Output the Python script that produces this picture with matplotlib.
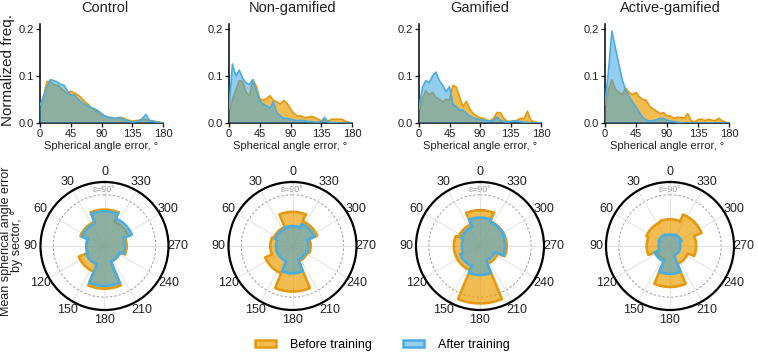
import numpy as np
import matplotlib
matplotlib.use("Agg")
import matplotlib.pyplot as plt
from matplotlib.patches import Patch

plt.rcParams['font.family'] = ['Liberation Sans', 'DejaVu Sans']

# ---------------- data ----------------
groups = ["Control", "Non-gamified", "Gamified", "Active-gamified"]
error_deg = list(range(0, 181, 5))
hist_xticks = [0, 45, 90, 135, 180]
hist_yticks = [0.0, 0.1, 0.2]

control_before = [0.030, 0.055, 0.088, 0.088, 0.082, 0.080, 0.075, 0.068, 0.063, 0.067,
                  0.064, 0.060, 0.054, 0.046, 0.040, 0.033, 0.027, 0.022, 0.017, 0.015,
                  0.012, 0.012, 0.010, 0.010, 0.012, 0.008, 0.006, 0.004, 0.005, 0.006,
                  0.008, 0.007, 0.005, 0.004, 0.003, 0.002, 0.0]
control_after = [0.038, 0.055, 0.075, 0.092, 0.090, 0.087, 0.082, 0.080, 0.068, 0.058,
                 0.060, 0.052, 0.045, 0.040, 0.036, 0.033, 0.030, 0.026, 0.020, 0.015,
                 0.012, 0.010, 0.010, 0.012, 0.009, 0.006, 0.004, 0.002, 0.003, 0.005,
                 0.010, 0.018, 0.006, 0.004, 0.002, 0.001, 0.0]
nongam_before = [0.020, 0.050, 0.070, 0.090, 0.088, 0.065, 0.058, 0.092, 0.078, 0.052,
                 0.048, 0.052, 0.058, 0.048, 0.045, 0.040, 0.048, 0.042, 0.030, 0.020,
                 0.015, 0.015, 0.012, 0.012, 0.014, 0.012, 0.008, 0.005, 0.007, 0.004,
                 0.008, 0.008, 0.008, 0.008, 0.004, 0.002, 0.0]
nongam_after = [0.030, 0.125, 0.100, 0.112, 0.095, 0.085, 0.082, 0.092, 0.068, 0.048,
                0.040, 0.036, 0.032, 0.045, 0.022, 0.015, 0.010, 0.010, 0.008, 0.006,
                0.005, 0.006, 0.005, 0.003, 0.003, 0.002, 0.002, 0.003, 0.012, 0.002,
                0.001, 0.001, 0.0, 0.0, 0.0, 0.0, 0.0]
gam_before = [0.020, 0.050, 0.068, 0.060, 0.065, 0.055, 0.050, 0.045, 0.050, 0.048,
              0.080, 0.076, 0.055, 0.035, 0.046, 0.030, 0.020, 0.015, 0.011, 0.010,
              0.006, 0.005, 0.010, 0.022, 0.022, 0.010, 0.004, 0.003, 0.003, 0.006,
              0.010, 0.009, 0.025, 0.006, 0.002, 0.001, 0.0]
gam_after = [0.030, 0.075, 0.090, 0.085, 0.100, 0.108, 0.090, 0.080, 0.066, 0.077,
             0.040, 0.035, 0.028, 0.027, 0.020, 0.015, 0.011, 0.009, 0.007, 0.006,
             0.005, 0.004, 0.005, 0.013, 0.006, 0.003, 0.002, 0.003, 0.005, 0.004,
             0.003, 0.002, 0.001, 0.0, 0.0, 0.0, 0.0]
active_before = [0.030, 0.070, 0.092, 0.072, 0.065, 0.060, 0.074, 0.065, 0.060, 0.065,
                 0.055, 0.050, 0.048, 0.035, 0.030, 0.025, 0.020, 0.022, 0.015, 0.015,
                 0.010, 0.012, 0.012, 0.010, 0.020, 0.005, 0.002, 0.007, 0.008, 0.005,
                 0.008, 0.006, 0.005, 0.010, 0.005, 0.002, 0.0]
active_after = [0.040, 0.110, 0.195, 0.160, 0.125, 0.092, 0.070, 0.056, 0.044, 0.034,
                0.022, 0.012, 0.006, 0.004, 0.005, 0.007, 0.010, 0.010, 0.006, 0.004,
                0.003, 0.002, 0.001, 0.0, 0.0, 0.0, 0.0, 0.0, 0.0, 0.0,
                0.0, 0.0, 0.0, 0.0, 0.0, 0.0, 0.0]

sector_deg = [0, 45, 90, 135, 180, 225, 270, 315]
control_sec_before = [64, 46, 32, 49, 75, 30, 39, 46]
control_sec_after = [61, 43, 32, 35, 70, 29, 36, 52]
nongam_sec_before = [60, 36, 39, 52, 80, 29, 32, 47]
nongam_sec_after = [35, 33, 29, 29, 48, 26, 28, 42]
gam_sec_before = [63, 41, 46, 46, 101, 34, 47, 47]
gam_sec_after = [50, 36, 32, 38, 51, 28, 44, 46]
active_sec_before = [47, 45, 41, 25, 72, 34, 46, 60]
active_sec_after = [20, 22, 20, 29, 49, 18, 18, 22]
polar_labels = [str(a) for a in range(0, 360, 30)]
ref_error = 90

hist_before = [control_before, nongam_before, gam_before, active_before]
hist_after = [control_after, nongam_after, gam_after, active_after]
sec_before = [control_sec_before, nongam_sec_before, gam_sec_before, active_sec_before]
sec_after = [control_sec_after, nongam_sec_after, gam_sec_after, active_sec_after]

# ---------------- style ----------------
ORANGE_EDGE = '#E39A12'
ORANGE_FILL = (0.925, 0.635, 0.06, 0.72)
BLUE_EDGE = '#4AADE2'
BLUE_FILL = (0.235, 0.647, 0.882, 0.55)
TXT = '#222222'

W, H = 758, 352
fig = plt.figure(figsize=(W / 100, H / 100), dpi=100)


def fx(px):
    return px / W


def fy(py):
    return 1 - py / H


hist_lr = [(40, 163), (229, 352), (419, 541), (605, 729)]
polar_cx = [104.5, 292.5, 480, 670]
polar_cy = 246
polar_R = 64


def sector_outline(centers, radii):
    width = 360.0 / len(centers)
    th, rr = [], []
    for c, r in zip(centers, radii):
        t = np.linspace(c - width / 2, c + width / 2, 24)
        th.extend(np.deg2rad(t))
        rr.extend([r] * len(t))
    th.append(th[0])
    rr.append(rr[0])
    return np.array(th), np.array(rr)


for i, name in enumerate(groups):
    l, r = hist_lr[i]
    ax = fig.add_axes([fx(l), fy(123), (r - l) / W, 99 / H])
    x = np.array(error_deg)
    b = np.array(hist_before[i])
    a = np.array(hist_after[i])
    ax.fill_between(x, 0, b, facecolor=ORANGE_FILL, edgecolor='none', zorder=1)
    ax.plot(x, b, color=ORANGE_EDGE, lw=1.2, zorder=2)
    ax.fill_between(x, 0, a, facecolor=BLUE_FILL, edgecolor='none', zorder=3)
    ax.plot(x, a, color=BLUE_EDGE, lw=1.2, zorder=4)
    ax.set_xlim(0, 180)
    ax.set_ylim(0, 0.21)
    ax.set_xticks(hist_xticks)
    ax.set_yticks(hist_yticks)
    ax.set_yticklabels([f"{v:.1f}" for v in hist_yticks])
    for s in ['top', 'right']:
        ax.spines[s].set_visible(False)
    for s in ['left', 'bottom']:
        ax.spines[s].set_linewidth(1.1)
    ax.tick_params(length=3, width=1, pad=1.5, labelsize=8, colors=TXT)
    ax.set_xlabel('Spherical angle error, °', fontsize=8, labelpad=1, color=TXT)
    fig.text(fx(polar_cx[i]), fy(8), name, ha='center', va='center', fontsize=10.5, color=TXT)

    # polar
    cx = polar_cx[i]
    pax = fig.add_axes([fx(cx - polar_R), fy(polar_cy + polar_R), 2 * polar_R / W, 2 * polar_R / H],
                       projection='polar')
    pax.set_theta_zero_location('N')
    pax.set_theta_direction(1)
    pax.set_ylim(0, 112.5)
    pax.set_yticks([])
    pax.set_thetagrids(np.arange(0, 360, 30), labels=polar_labels, fontsize=9, color=TXT)
    pax.xaxis.grid(True, color='#dddddd', lw=0.6)
    pax.spines['polar'].set_linewidth(1.6)
    pax.tick_params(axis='x', pad=-3.5)
    tt = np.linspace(0, 2 * np.pi, 300)
    pax.plot(tt, np.full_like(tt, ref_error), ls=(0, (2.5, 2)), color='#9a9a9a', lw=0.7, zorder=1)
    pax.text(0, ref_error + 1, f'ε={ref_error}°', ha='center', va='bottom', fontsize=6.5,
             color='#9a9a9a', zorder=1)
    th, rr = sector_outline(sector_deg, sec_before[i])
    pax.fill(th, rr, facecolor=ORANGE_FILL, edgecolor='none', zorder=2)
    pax.plot(th, rr, color=ORANGE_EDGE, lw=1.9, zorder=3)
    th, rr = sector_outline(sector_deg, sec_after[i])
    pax.fill(th, rr, facecolor=BLUE_FILL, edgecolor='none', zorder=4)
    pax.plot(th, rr, color=BLUE_EDGE, lw=1.9, zorder=5)

fig.text(fx(8), fy(70), 'Normalized freq.', rotation=90, ha='center', va='center',
         fontsize=11, color=TXT)
fig.text(fx(6.5), fy(241), 'Mean spherical angle error', rotation=90, ha='center', va='center',
         fontsize=9, color=TXT)
fig.text(fx(17), fy(241), 'by sector, °', rotation=90, ha='center', va='center',
         fontsize=9, color=TXT)

handles = [Patch(facecolor=ORANGE_FILL, edgecolor=ORANGE_EDGE, lw=1.8, label='Before training'),
           Patch(facecolor=BLUE_FILL, edgecolor=BLUE_EDGE, lw=1.8, label='After training')]
fig.legend(handles=handles, loc='center', bbox_to_anchor=(fx(382), fy(345)), ncol=2,
           frameon=False, fontsize=9, handlelength=1.7, handleheight=0.45,
           handletextpad=1.1, columnspacing=2.5, borderaxespad=0, borderpad=0)

fig.savefig('out.png', dpi=100)
